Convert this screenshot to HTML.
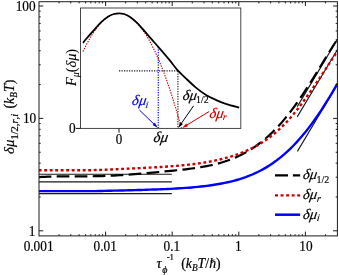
<!DOCTYPE html>
<html><head><meta charset="utf-8">
<style>
html,body{margin:0;padding:0;background:#fff;overflow:hidden;}
svg{display:block;will-change:transform;filter:blur(0.35px);}
text{font-family:"Liberation Serif",serif;fill:#000;}
.i{font-style:italic;}
</style></head><body>
<svg width="339" height="275" viewBox="0 0 339 275">
<rect x="0" y="0" width="339" height="275" fill="#fff"/>
<clipPath id="mainclip"><rect x="39.0" y="1.7" width="298.4" height="234.20000000000002"/></clipPath>
<g stroke="#1a1a1a" stroke-width="1.1" fill="none">
<path d="M39,174.3 H171.8 M39,181.9 H171.8 M39,193.6 H171.8"/>
<path d="M297.3,106.6 L337.4,39.4 M297.2,116.9 L337.4,49.7 M297.4,151.4 L337.4,84.4"/>
</g>
<g fill="none" clip-path="url(#mainclip)">
<path d="M38.70,191.14 L41.70,191.14 L44.70,191.14 L47.70,191.14 L50.70,191.14 L53.70,191.14 L56.70,191.14 L59.70,191.14 L62.70,191.14 L65.70,191.14 L68.70,191.14 L71.70,191.14 L74.70,191.14 L77.70,191.14 L80.70,191.14 L83.70,191.14 L86.70,191.14 L89.70,191.14 L92.70,191.14 L95.70,191.12 L98.70,191.05 L101.70,190.97 L104.70,190.90 L107.70,190.82 L110.70,190.75 L113.70,190.67 L116.70,190.59 L119.70,190.51 L122.70,190.44 L125.70,190.36 L128.70,190.28 L131.70,190.19 L134.70,190.11 L137.70,190.03 L140.70,189.94 L143.70,189.85 L146.70,189.76 L149.70,189.66 L152.70,189.56 L155.70,189.46 L158.70,189.35 L161.70,189.23 L164.70,189.10 L167.70,188.97 L170.70,188.83 L173.70,188.67 L176.70,188.50 L179.70,188.32 L182.70,188.13 L185.70,187.91 L188.70,187.68 L191.70,187.43 L194.70,187.16 L197.70,186.87 L200.70,186.56 L203.70,186.21 L206.70,185.84 L209.70,185.44 L212.70,185.01 L215.70,184.54 L218.70,184.03 L221.70,183.49 L224.70,182.89 L227.70,182.25 L230.70,181.55 L233.70,180.80 L236.70,179.98 L239.70,179.10 L242.70,178.14 L245.70,177.10 L248.70,175.97 L251.70,174.75 L254.70,173.44 L257.70,172.02 L260.70,170.50 L263.70,168.86 L266.70,167.11 L269.70,165.24 L272.70,163.23 L275.70,161.10 L278.70,158.82 L281.70,156.41 L284.70,153.85 L287.70,151.15 L290.70,148.29 L293.70,145.28 L296.70,142.12 L299.70,138.79 L302.70,135.31 L305.70,131.67 L308.70,127.87 L311.70,123.90 L314.70,119.78 L317.70,115.50 L320.70,111.06 L323.70,106.47 L326.70,101.72 L329.70,96.82 L332.70,91.77 L335.70,86.57 L337.40,83.57" stroke="#0000ff" stroke-width="2.4"/>
<path d="M38.70,177.17 L41.70,176.95 L44.70,176.78 L47.70,176.64 L50.70,176.53 L53.70,176.45 L56.70,176.40 L59.70,176.36 L62.70,176.34 L65.70,176.33 L68.70,176.32 L71.70,176.32 L74.70,176.32 L77.70,176.32 L80.70,176.32 L83.70,176.32 L86.70,176.30 L89.70,176.28 L92.70,176.24 L95.70,176.19 L98.70,176.12 L101.70,176.04 L104.70,175.94 L107.70,175.83 L110.70,175.70 L113.70,175.56 L116.70,175.40 L119.70,175.22 L122.70,175.03 L125.70,174.82 L128.70,174.60 L131.70,174.37 L134.70,174.13 L137.70,173.88 L140.70,173.62 L143.70,173.36 L146.70,173.10 L149.70,172.83 L152.70,172.56 L155.70,172.29 L158.70,172.02 L161.70,171.74 L164.70,171.46 L167.70,171.18 L170.70,170.88 L173.70,170.59 L176.70,170.28 L179.70,169.96 L182.70,169.63 L185.70,169.29 L188.70,168.92 L191.70,168.53 L194.70,168.12 L197.70,167.67 L200.70,167.20 L203.70,166.68 L206.70,166.12 L209.70,165.51 L212.70,164.85 L215.70,164.14 L218.70,163.35 L221.70,162.50 L224.70,161.57 L227.70,160.56 L230.70,159.46 L233.70,158.26 L236.70,156.97 L239.70,155.58 L242.70,154.07 L245.70,152.46 L248.70,150.72 L251.70,148.86 L254.70,146.87 L257.70,144.74 L260.70,142.48 L263.70,140.08 L266.70,137.53 L269.70,134.82 L272.70,131.97 L275.70,128.95 L278.70,125.77 L281.70,122.42 L284.70,118.90 L287.70,115.22 L290.70,111.38 L293.70,107.39 L296.70,103.24 L299.70,98.95 L302.70,94.52 L305.70,89.98 L308.70,85.33 L311.70,80.59 L314.70,75.77 L317.70,70.89 L320.70,65.98 L323.70,61.06 L326.70,56.15 L329.70,51.27 L332.70,46.46 L335.70,41.74 L337.40,39.11" stroke="#000" stroke-width="2.2" stroke-dasharray="12.7 5.3"/>
<path d="M38.70,170.31 L41.70,170.31 L44.70,170.31 L47.70,170.31 L50.70,170.31 L53.70,170.31 L56.70,170.31 L59.70,170.31 L62.70,170.31 L65.70,170.31 L68.70,170.31 L71.70,170.31 L74.70,170.31 L77.70,170.31 L80.70,170.31 L83.70,170.31 L86.70,170.31 L89.70,170.29 L92.70,170.18 L95.70,170.07 L98.70,169.95 L101.70,169.83 L104.70,169.70 L107.70,169.57 L110.70,169.45 L113.70,169.31 L116.70,169.18 L119.70,169.05 L122.70,168.91 L125.70,168.78 L128.70,168.64 L131.70,168.50 L134.70,168.36 L137.70,168.22 L140.70,168.08 L143.70,167.93 L146.70,167.78 L149.70,167.62 L152.70,167.46 L155.70,167.29 L158.70,167.11 L161.70,166.93 L164.70,166.73 L167.70,166.53 L170.70,166.31 L173.70,166.08 L176.70,165.83 L179.70,165.57 L182.70,165.29 L185.70,164.99 L188.70,164.66 L191.70,164.32 L194.70,163.94 L197.70,163.54 L200.70,163.10 L203.70,162.64 L206.70,162.14 L209.70,161.60 L212.70,161.02 L215.70,160.40 L218.70,159.73 L221.70,159.01 L224.70,158.24 L227.70,157.42 L230.70,156.54 L233.70,155.59 L236.70,154.58 L239.70,153.49 L242.70,152.33 L245.70,151.08 L248.70,149.74 L251.70,148.31 L254.70,146.77 L257.70,145.13 L260.70,143.36 L263.70,141.47 L266.70,139.45 L269.70,137.28 L272.70,134.97 L275.70,132.49 L278.70,129.84 L281.70,127.01 L284.70,124.01 L287.70,120.83 L290.70,117.46 L293.70,113.93 L296.70,110.23 L299.70,106.38 L302.70,102.39 L305.70,98.28 L308.70,94.06 L311.70,89.76 L314.70,85.39 L317.70,80.96 L320.70,76.48 L323.70,71.97 L326.70,67.43 L329.70,62.86 L332.70,58.27 L335.70,53.67 L337.40,51.05" stroke="#cc0000" stroke-width="2.4" stroke-dasharray="2.9 2.6"/>
</g>
<rect x="39.0" y="1.7" width="298.4" height="234.20" fill="none" stroke="#1c1c1c" stroke-width="1"/>
<path d="M59.05,235.90 v-1.70 M59.05,1.70 v1.70 M70.78,235.90 v-1.70 M70.78,1.70 v1.70 M79.10,235.90 v-1.70 M79.10,1.70 v1.70 M85.55,235.90 v-1.70 M85.55,1.70 v1.70 M90.82,235.90 v-1.70 M90.82,1.70 v1.70 M95.28,235.90 v-1.70 M95.28,1.70 v1.70 M99.15,235.90 v-1.70 M99.15,1.70 v1.70 M102.55,235.90 v-1.70 M102.55,1.70 v1.70 M105.60,235.90 v-4.30 M105.60,1.70 v4.30 M125.65,235.90 v-1.70 M125.65,1.70 v1.70 M137.38,235.90 v-1.70 M137.38,1.70 v1.70 M145.70,235.90 v-1.70 M145.70,1.70 v1.70 M152.15,235.90 v-1.70 M152.15,1.70 v1.70 M157.42,235.90 v-1.70 M157.42,1.70 v1.70 M161.88,235.90 v-1.70 M161.88,1.70 v1.70 M165.75,235.90 v-1.70 M165.75,1.70 v1.70 M169.15,235.90 v-1.70 M169.15,1.70 v1.70 M172.20,235.90 v-4.30 M172.20,1.70 v4.30 M192.25,235.90 v-1.70 M192.25,1.70 v1.70 M203.98,235.90 v-1.70 M203.98,1.70 v1.70 M212.30,235.90 v-1.70 M212.30,1.70 v1.70 M218.75,235.90 v-1.70 M218.75,1.70 v1.70 M224.02,235.90 v-1.70 M224.02,1.70 v1.70 M228.48,235.90 v-1.70 M228.48,1.70 v1.70 M232.35,235.90 v-1.70 M232.35,1.70 v1.70 M235.75,235.90 v-1.70 M235.75,1.70 v1.70 M238.80,235.90 v-4.30 M238.80,1.70 v4.30 M258.85,235.90 v-1.70 M258.85,1.70 v1.70 M270.58,235.90 v-1.70 M270.58,1.70 v1.70 M278.90,235.90 v-1.70 M278.90,1.70 v1.70 M285.35,235.90 v-1.70 M285.35,1.70 v1.70 M290.62,235.90 v-1.70 M290.62,1.70 v1.70 M295.08,235.90 v-1.70 M295.08,1.70 v1.70 M298.95,235.90 v-1.70 M298.95,1.70 v1.70 M302.35,235.90 v-1.70 M302.35,1.70 v1.70 M305.40,235.90 v-4.30 M305.40,1.70 v4.30 M325.45,235.90 v-1.70 M325.45,1.70 v1.70 M39.00,230.80 h4.30 M337.40,230.80 h-4.30 M39.00,196.96 h1.70 M337.40,196.96 h-1.70 M39.00,177.17 h1.70 M337.40,177.17 h-1.70 M39.00,163.13 h1.70 M337.40,163.13 h-1.70 M39.00,152.24 h1.70 M337.40,152.24 h-1.70 M39.00,143.34 h1.70 M337.40,143.34 h-1.70 M39.00,135.81 h1.70 M337.40,135.81 h-1.70 M39.00,129.29 h1.70 M337.40,129.29 h-1.70 M39.00,123.54 h1.70 M337.40,123.54 h-1.70 M39.00,118.40 h4.30 M337.40,118.40 h-4.30 M39.00,84.56 h1.70 M337.40,84.56 h-1.70 M39.00,64.77 h1.70 M337.40,64.77 h-1.70 M39.00,50.73 h1.70 M337.40,50.73 h-1.70 M39.00,39.84 h1.70 M337.40,39.84 h-1.70 M39.00,30.94 h1.70 M337.40,30.94 h-1.70 M39.00,23.41 h1.70 M337.40,23.41 h-1.70 M39.00,16.89 h1.70 M337.40,16.89 h-1.70 M39.00,11.14 h1.70 M337.40,11.14 h-1.70 M39.00,6.00 h4.30 M337.40,6.00 h-4.30" stroke="#1c1c1c" stroke-width="1" fill="none"/>
<rect x="80.5" y="8.0" width="160.30" height="120.40" fill="#fff" stroke="#333" stroke-width="0.9"/>
<path d="M80.5,128.4 h-4.5 M119.0,128.4 v4.3" stroke="#111" stroke-width="1"/>
<g fill="none">
<path d="M119,70.9 H178.5" stroke="#222" stroke-width="1.2" stroke-dasharray="1.25 1.25"/>
<path d="M177.9,70.9 V128" stroke="#444" stroke-width="1.4" stroke-dasharray="1.25 1.25"/>
<path d="M158.3,47 V128" stroke="#1a1aff" stroke-width="1.3" stroke-dasharray="1.25 1.25"/>
<path d="M83.00,51.55 L84.67,48.10 L86.34,44.80 L88.01,41.68 L89.68,38.71 L91.35,35.91 L93.02,33.28 L94.69,30.80 L96.36,28.50 L98.03,26.35 L99.69,24.37 L101.36,22.56 L103.03,20.90 L104.70,19.42 L106.37,18.09 L108.04,16.93 L109.71,15.94 L111.38,15.11 L113.05,14.44 L114.72,13.94 L116.39,13.60 L118.06,13.43 L119.73,13.42 L121.40,13.57 L123.07,13.89 L124.74,14.37 L126.41,15.02 L128.08,15.83 L129.75,16.80 L131.42,17.94 L133.08,19.24 L134.75,20.71 L136.42,22.34 L138.09,24.13 L139.76,26.09 L141.43,28.21 L143.10,30.50 L144.77,32.95 L146.44,35.57 L148.11,38.35 L149.78,41.29 L151.45,44.40 L153.12,47.67 L154.79,51.11 L156.46,54.71 L158.13,58.47 L159.80,62.40 L161.47,66.49 L163.14,70.75 L164.81,75.17 L166.47,79.75 L168.14,84.50 L169.81,89.41 L171.48,94.49 L173.15,99.73 L174.82,105.14 L176.49,110.71 L178.16,116.44 L179.83,122.34 L181.50,128.40" stroke="#cc0000" stroke-width="1.1" stroke-dasharray="1.4 1.2"/>
<path d="M83.00,42.90 C83.52,42.25 84.35,41.05 86.10,39.00 C87.85,36.95 91.03,33.38 93.50,30.60 C95.97,27.82 98.43,24.67 100.90,22.30 C103.37,19.93 106.12,17.78 108.30,16.40 C110.48,15.02 112.22,14.52 114.00,14.00 C115.78,13.48 117.33,13.30 119.00,13.30 C120.67,13.30 122.22,13.43 124.00,14.00 C125.78,14.57 127.52,15.22 129.70,16.70 C131.88,18.18 134.63,20.48 137.10,22.90 C139.57,25.32 142.03,28.42 144.50,31.20 C146.97,33.98 149.65,37.05 151.90,39.60 C154.15,42.15 155.22,43.28 158.00,46.50 C160.78,49.72 165.27,54.87 168.60,58.90 C171.93,62.93 175.22,67.55 178.00,70.70 C180.78,73.85 182.37,75.03 185.30,77.80 C188.23,80.57 192.15,84.45 195.60,87.30 C199.05,90.15 202.55,92.77 206.00,94.90 C209.45,97.03 212.87,98.55 216.30,100.10 C219.73,101.65 222.78,102.95 226.60,104.20 C230.42,105.45 237.10,107.03 239.20,107.60" stroke="#000" stroke-width="1.75"/>
</g>
<path d="M139.40,110.00 L154.45,124.56" stroke="#0000ff" stroke-width="1" fill="none"/><path d="M157.90,127.90 L152.55,125.09 L154.91,122.65 Z" fill="#0000ff"/><path d="M193.60,105.80 L180.94,123.96" stroke="#000" stroke-width="1" fill="none"/><path d="M178.20,127.90 L180.12,122.17 L182.91,124.11 Z" fill="#000"/><path d="M209.00,111.60 L186.30,125.41" stroke="#cc0000" stroke-width="1" fill="none"/><path d="M182.20,127.90 L186.27,123.43 L188.04,126.34 Z" fill="#cc0000"/>
<g fill="none">
<path d="M275,175.3 H300.1" stroke="#000" stroke-width="2.3" stroke-dasharray="13 4.9"/>
<path d="M275,195.4 H300.2" stroke="#cc0000" stroke-width="2.4" stroke-dasharray="3 2.55"/>
<path d="M275,214.7 H300.1" stroke="#0000ff" stroke-width="2.5"/>
</g>

<text transform="translate(72.20,133.20) scale(0.95,1.11)" font-size="14" text-anchor="middle" style="stroke:#000;stroke-width:0.2;">0</text>
<text transform="translate(118.90,144.00) scale(0.93,1.09)" font-size="14" text-anchor="middle" style="stroke:#000;stroke-width:0.2;">0</text>
<g transform="translate(153.00,141.70)"><text transform="skewX(-9)" font-size="15" class="i" style="fill:#000;stroke:#000;stroke-width:0.18">δμ</text></g>
<g transform="translate(131.60,105.00)"><text transform="skewX(-9)" font-size="14.6" class="i" style="fill:#0000ff;stroke:#0000ff;stroke-width:0.18">δμ</text><text transform="translate(13.72,2.60) skewX(-8)" font-size="9.6" class="i" style="fill:#0000ff;stroke:#0000ff;stroke-width:0.15">i</text></g>
<g transform="translate(182.20,100.00)"><text transform="skewX(-9)" font-size="14.6" class="i" style="fill:#000;stroke:#000;stroke-width:0.18">δμ</text><text transform="translate(13.82,3.40)" font-size="9.8" style="fill:#000;stroke:#000;stroke-width:0.15">1/2</text></g>
<g transform="translate(209.00,117.60)"><text transform="skewX(-9)" font-size="14.6" class="i" style="fill:#cc0000;stroke:#cc0000;stroke-width:0.18">δμ</text><text transform="translate(13.52,2.40) skewX(-8)" font-size="9.6" class="i" style="fill:#cc0000;stroke:#cc0000;stroke-width:0.15">r</text></g>
<text transform="translate(76.40,86.00) rotate(-90)" font-size="14.3" text-anchor="start" class="i" style="stroke:#000;stroke-width:0.1;">F<tspan dy="2.8" font-size="10">μ</tspan><tspan dy="-2.8" font-style="normal">(</tspan>δμ<tspan font-style="normal">)</tspan></text>
<g transform="translate(302.40,179.40)"><text transform="skewX(-9)" font-size="14.6" class="i" style="fill:#000;stroke:#000;stroke-width:0.18">δμ</text><text transform="translate(14.12,3.20)" font-size="10" style="fill:#000;stroke:#000;stroke-width:0.15">1/2</text></g>
<g transform="translate(302.40,199.00)"><text transform="skewX(-9)" font-size="14.6" class="i" style="fill:#000;stroke:#000;stroke-width:0.18">δμ</text><text transform="translate(14.12,2.80) skewX(-8)" font-size="10" class="i" style="fill:#000;stroke:#000;stroke-width:0.15">r</text></g>
<g transform="translate(302.40,218.60)"><text transform="skewX(-9)" font-size="14.6" class="i" style="fill:#000;stroke:#000;stroke-width:0.18">δμ</text><text transform="translate(14.12,2.80) skewX(-8)" font-size="10" class="i" style="fill:#000;stroke:#000;stroke-width:0.15">i</text></g>
<text transform="translate(35.60,10.90) scale(0.95,1.11)" font-size="14" text-anchor="end" style="stroke:#000;stroke-width:0.2;">100</text>
<text transform="translate(36.20,123.20) scale(0.95,1.11)" font-size="14" text-anchor="end" style="stroke:#000;stroke-width:0.2;">10</text>
<text transform="translate(35.40,236.20) scale(0.95,1.11)" font-size="14" text-anchor="end" style="stroke:#000;stroke-width:0.2;">1</text>
<text transform="translate(38.60,250.50) scale(0.95,1.11)" font-size="14" text-anchor="middle" style="stroke:#000;stroke-width:0.2;">0.001</text>
<text transform="translate(105.20,250.50) scale(0.95,1.11)" font-size="14" text-anchor="middle" style="stroke:#000;stroke-width:0.2;">0.01</text>
<text transform="translate(171.80,250.50) scale(0.95,1.11)" font-size="14" text-anchor="middle" style="stroke:#000;stroke-width:0.2;">0.1</text>
<text transform="translate(238.40,250.50) scale(0.95,1.11)" font-size="14" text-anchor="middle" style="stroke:#000;stroke-width:0.2;">1</text>
<text transform="translate(306.00,250.50) scale(0.95,1.11)" font-size="14" text-anchor="middle" style="stroke:#000;stroke-width:0.2;">10</text>
<text transform="translate(156.60,268.40)" font-size="14.2" text-anchor="start" class="i" style="stroke:#000;stroke-width:0.2;">τ<tspan dy="4.6" dx="0.6" font-size="10">ϕ</tspan><tspan dy="-13.4" dx="-0.8" font-size="8.8" font-style="normal">-1</tspan></text>
<text transform="translate(181.20,268.20)" font-size="13.8" text-anchor="start" class="i" style="stroke:#000;stroke-width:0.2;"><tspan font-style="normal">(</tspan>k<tspan dy="2.4" font-size="9.3">B</tspan><tspan dy="-2.4">T</tspan><tspan font-style="normal">/</tspan>h<tspan font-style="normal">)</tspan></text>
<path d="M210.4,261.0 L214.6,259.8" stroke="#000" stroke-width="0.8"/>
<text transform="translate(14.40,154.00) rotate(-90)" font-size="13.9" text-anchor="start" class="i" style="stroke:#000;stroke-width:0.2;"><tspan font-size="14.9">δμ</tspan><tspan dy="3.2" font-size="10.5" font-style="normal">1/2,</tspan><tspan font-size="10.5">r</tspan><tspan font-size="10.5" font-style="normal">,</tspan><tspan font-size="10.5">i</tspan><tspan dy="-3.2" font-style="normal" dx="5.4">(</tspan>k<tspan dy="2.4" font-size="9.3">B</tspan><tspan dy="-2.4">T</tspan><tspan font-style="normal">)</tspan></text>
</svg>
</body></html>
